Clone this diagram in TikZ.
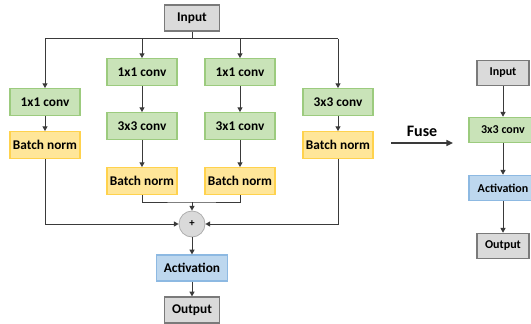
\documentclass[tikz,border=0pt]{standalone}
\usepackage{fontspec}
\setmainfont{Carlito}
\usetikzlibrary{arrows.meta,calc,positioning}
\usepackage{xcolor}
\newcommand{\XA}{45}
\newcommand{\XB}{142}
\newcommand{\XC}{240}
\newcommand{\XD}{338}
\newcommand{\XMid}{192}
\newcommand{\XFused}{503}
\newcommand{\YBus}{39}
\definecolor{ConvFill}{HTML}{C9E3B8}
\definecolor{ConvDraw}{HTML}{9CCB7E}
\definecolor{NormFill}{HTML}{FFE699}
\definecolor{NormDraw}{HTML}{FFD24D}
\definecolor{ActFill}{HTML}{BDD7EE}
\definecolor{ActDraw}{HTML}{8DB9E2}
\definecolor{IOFill}{HTML}{DADADA}
\definecolor{IODraw}{HTML}{7A7A7A}
\definecolor{LineColor}{HTML}{3A3A3A}

\begin{document}
\begin{tikzpicture}[
  x=0.75pt,y=-0.75pt,
  >={Triangle[length=3.6pt,width=3.8pt]},
  box/.style={draw,line width=0.9pt,inner sep=0pt,font=\bfseries\fontsize{10}{12}\selectfont,minimum width=52.5pt,minimum height=20pt},
  conv/.style={box,fill=ConvFill,draw=ConvDraw},
  norm/.style={box,fill=NormFill,draw=NormDraw},
  act/.style={box,fill=ActFill,draw=ActDraw,minimum width=53pt,minimum height=19.5pt},
  io/.style={box,fill=IOFill,draw=IODraw,minimum width=41pt,minimum height=19.5pt},
  small/.style={font=\bfseries\fontsize{9}{11}\selectfont,minimum height=19pt},
  addnode/.style={circle,fill=IOFill,draw=IOFill!80!black,line width=0.6pt,minimum size=19.5pt,inner sep=0pt,font=\bfseries\fontsize{8}{9}\selectfont},
  link/.style={draw=LineColor,line width=0.75pt},
  flow/.style={link,->}
]
\useasboundingbox (0,0) rectangle (531,324);

% Multi-branch block
\node[io] (in) at (\XMid,18) {Input};
\node[conv] (convA) at (\XA,102) {1x1 conv};
\node[norm] (normA) at (\XA,145) {Batch norm};
\node[conv] (convB1) at (\XB,72) {1x1 conv};
\node[conv] (convB2) at (\XB,126) {3x3 conv};
\node[norm] (normB) at (\XB,181) {Batch norm};
\node[conv] (convC1) at (\XC,72) {1x1 conv};
\node[conv] (convC2) at (\XC,126) {3x1 conv};
\node[norm] (normC) at (\XC,181) {Batch norm};
\node[conv] (convD) at (\XD,102) {3x3 conv};
\node[norm] (normD) at (\XD,145) {Batch norm};
\node[addnode] (add) at (\XMid,224) {+};
\node[act] (act) at (\XMid,268) {Activation};
\node[io] (out) at (\XMid,310) {Output};

% Input bus
\coordinate (busIn) at (\XMid,\YBus);
\coordinate (busA) at (\XA,\YBus);
\coordinate (busB) at (\XB,\YBus);
\coordinate (busC) at (\XC,\YBus);
\coordinate (busD) at (\XD,\YBus);
\draw[link] (in) -- (busIn);
\draw[link] (busA) -- (busD);
\draw[flow] (busA) -- (convA);
\draw[flow] (busB) -- (convB1);
\draw[flow] (busC) -- (convC1);
\draw[flow] (busD) -- (convD);

% Branches
\draw[flow] (convA) -- (normA);
\draw[flow] (convB1) -- (convB2);
\draw[flow] (convB2) -- (normB);
\draw[flow] (convC1) -- (convC2);
\draw[flow] (convC2) -- (normC);
\draw[flow] (convD) -- (normD);

% Merge
\coordinate (joinBC) at (\XMid,202);
\draw[link] (normB) |- (joinBC) -| (normC);
\draw[flow] (joinBC) -- (add);
\draw[flow] (normA) |- (add);
\draw[flow] (normD) |- (add);
\draw[flow] (add) -- (act);
\draw[flow] (act) -- (out);

% Fuse arrow
\coordinate (fuseS) at (391,143);
\coordinate (fuseE) at (453,143);
\draw[link,line width=1pt,-{Triangle[length=5pt,width=4.5pt]}] (fuseS) -- node[above=1pt,font=\bfseries\fontsize{12}{14}\selectfont]{Fuse} (fuseE);

% Fused block
\node[io,small,minimum width=39pt] (fin) at (\XFused,73) {Input};
\node[conv,small,minimum width=51pt] (fconv) at (\XFused,130) {3x3 conv};
\node[act,small,minimum width=51pt] (fact) at (\XFused,188) {Activation};
\node[io,small,minimum width=39pt] (fout) at (\XFused,246) {Output};
\draw[flow] (fin) -- (fconv);
\draw[flow] (fconv) -- (fact);
\draw[flow] (fact) -- (fout);

\end{tikzpicture}
\end{document}
